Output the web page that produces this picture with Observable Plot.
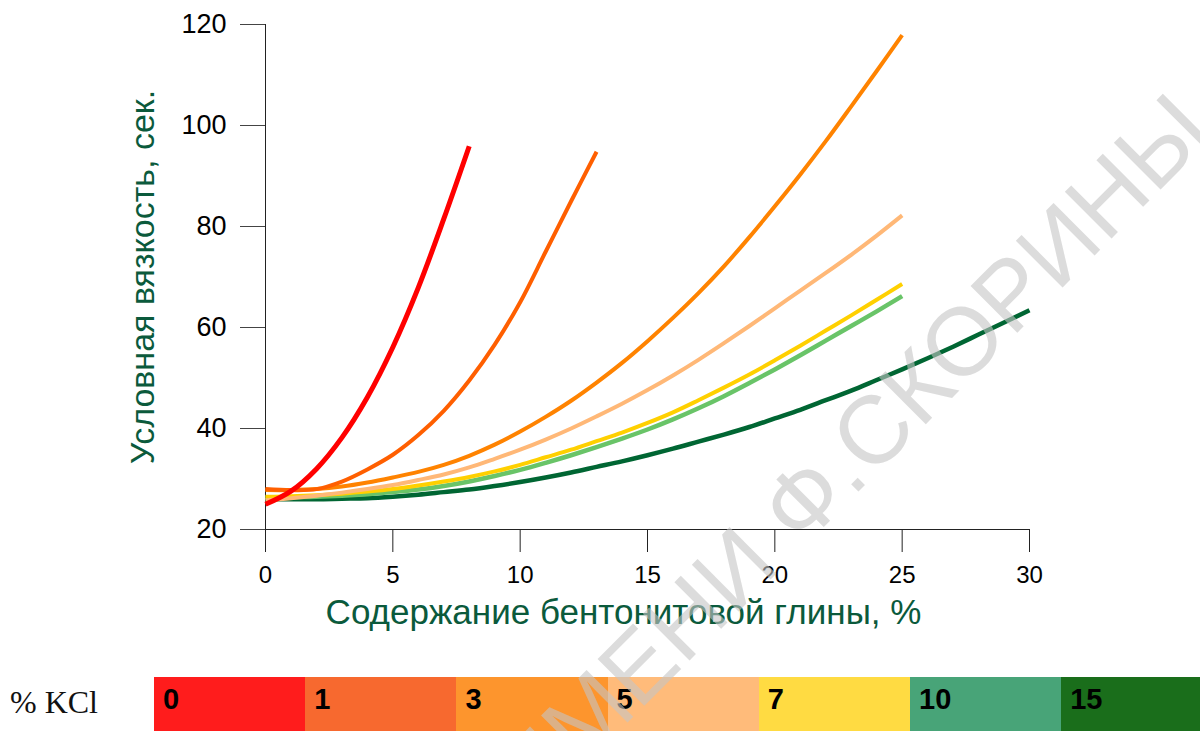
<!DOCTYPE html>
<html>
<head>
<meta charset="utf-8">
<script src="https://cdn.jsdelivr.net/npm/d3@7"></script>
<script src="https://cdn.jsdelivr.net/npm/@observablehq/plot@0.6"></script>
<style>
  html, body { margin: 0; padding: 0; background: #fff; }
  body { width: 1200px; height: 731px; position: relative; overflow: hidden; font-family: "Liberation Sans", Arial, sans-serif; }
  #chart { position: absolute; left: 0; top: 0; }
  #legend { position: absolute; left: 0; top: 677px; width: 1200px; height: 54px; }
  #legend .title { position: absolute; left: 10px; top: 0; height: 54px; line-height: 50px; font-family: "Liberation Serif", "Times New Roman", serif; font-size: 32px; color: #111; }
  #legend .box { position: absolute; top: 0; height: 54px; font-weight: bold; font-size: 29px; line-height: 44px; color: #000; box-sizing: border-box; padding-left: 9px; }
  #wm { position: absolute; left: 0; top: 0; pointer-events: none; }
</style>
</head>
<body>
<div id="chart"></div>
<div id="legend"></div>
<svg id="wm" width="1200" height="731"></svg>
<script>
// ---- data ----
const kclLevels = ["0", "1", "3", "5", "7", "10", "15"];
const clayPct = [0,1,2,3,4,5,6,7,8,9,10,11,12,13,14,15,16,17,18,19,20,21,22,23,24,25,26,27,28,29,30];
const visc0  = [25.0, 27.6, 32.0, 38.2, 46.2, 56.1, 67.9, 81.5, 95.9];
const visc1  = [28.0, 27.8, 28.0, 29.5, 31.9, 34.8, 38.7, 43.5, 49.5, 56.6, 65.0, 75.0, 85.0, 94.8];
const visc3  = [27.8, 27.8, 28.0, 28.5, 29.3, 30.3, 31.4, 32.8, 34.6, 36.8, 39.4, 42.3, 45.5, 49.1, 53.0, 57.3, 61.9, 66.8, 72.1, 77.9, 84.0, 90.3, 96.9, 103.8, 110.8, 117.9];
const visc5  = [25.8, 26.2, 26.7, 27.3, 28.0, 28.8, 29.8, 30.9, 32.3, 34.0, 35.8, 37.8, 40.0, 42.4, 44.9, 47.6, 50.5, 53.6, 56.9, 60.3, 63.8, 67.3, 70.8, 74.4, 78.2, 82.2];
const visc7  = [26.5, 26.6, 26.8, 27.1, 27.5, 28.0, 28.7, 29.5, 30.4, 31.5, 32.8, 34.3, 35.8, 37.5, 39.2, 41.1, 43.2, 45.6, 48.1, 50.7, 53.5, 56.4, 59.4, 62.4, 65.5, 68.6];
const visc10 = [26.3, 26.4, 26.5, 26.7, 27.0, 27.4, 27.9, 28.6, 29.5, 30.6, 31.8, 33.2, 34.7, 36.3, 38.0, 39.8, 41.8, 44.0, 46.4, 49.0, 51.7, 54.5, 57.4, 60.3, 63.2, 66.2];
const visc15 = [26.0, 26.0, 26.0, 26.1, 26.2, 26.5, 26.9, 27.4, 27.9, 28.6, 29.4, 30.3, 31.3, 32.4, 33.5, 34.7, 36.0, 37.4, 38.8, 40.3, 42.0, 43.7, 45.6, 47.5, 49.6, 51.7, 53.9, 56.2, 58.6, 61.0, 63.4];
const xTicks = [0, 5, 10, 15, 20, 25, 30];
const yTicks = [20, 40, 60, 80, 100, 120];
const xTitle = "Содержание бентонитовой глины, %";
const yTitle = "Условная вязкость, сек.";
const legendTitle = "% KCl";
const watermark = "ИМЕНИ Ф.СКОРИНЫ";

// ---- styles ----
const lineColors  = ["#ff0000", "#ff5f00", "#ff8300", "#ffb877", "#ffd000", "#69c468", "#006633"];
const lineWidths  = [5, 4, 4, 4, 4, 4.5, 4.5];
const boxColors   = ["#ff1c1c", "#f7692f", "#fd952d", "#ffbb7a", "#ffdb42", "#48a478", "#1a6e1b"];
const titleColor  = "#0b5a3c";

const viscSeries = [visc0, visc1, visc3, visc5, visc7, visc10, visc15];
const rowsFor = (i) => viscSeries[i].map((v, j) => ({kcl: kclLevels[i], clay: clayPct[j], visc: v}));

const lineMarks = [];
for (let i = kclLevels.length - 1; i >= 0; i--) {
  lineMarks.push(Plot.line(rowsFor(i), {
    x: "clay", y: "visc", stroke: lineColors[i], strokeWidth: lineWidths[i],
    curve: "catmull-rom", strokeLinecap: "butt"
  }));
}

const chart = Plot.plot({
  width: 1200,
  height: 660,
  marginLeft: 265,
  marginRight: 171,
  marginTop: 24,
  marginBottom: 131,
  style: {fontFamily: "'Liberation Sans', Arial, sans-serif", fontSize: "24px", color: "#000", background: "transparent", overflow: "visible"},
  x: {domain: [0, 30]},
  y: {domain: [20, 120]},
  marks: [
    Plot.axisY({ticks: yTicks, tickSize: 25, tickPadding: 14, fontSize: 27, label: null, stroke: "#444"}),
    Plot.axisX({ticks: xTicks, tickSize: 23, tickPadding: 13, fontSize: 24, label: null, stroke: "#222"}),
    Plot.ruleY([20], {stroke: "#222"}),
    Plot.ruleX([0], {y1: 20, y2: 120, stroke: "#222"}),
    ...lineMarks,
    Plot.text([xTitle], {frameAnchor: "bottom", textAnchor: "middle", dx: -24, dy: 94, fontSize: 35, fill: titleColor, text: d => d}),
    Plot.text([yTitle], {frameAnchor: "left", textAnchor: "middle", dx: -122, rotate: -90, fontSize: 34, fill: titleColor, text: d => d})
  ]
});
document.getElementById("chart").appendChild(chart);

// ---- legend ----
const legend = document.getElementById("legend");
const t = document.createElement("div");
t.className = "title";
t.textContent = legendTitle;
legend.appendChild(t);
const boxLeft = 154, boxW = 151.2;
kclLevels.forEach((k, i) => {
  const b = document.createElement("div");
  b.className = "box";
  b.style.left = (boxLeft + i * boxW) + "px";
  b.style.width = (i === kclLevels.length - 1 ? 1200 - (boxLeft + i * boxW) : boxW + 0.5) + "px";
  b.style.background = boxColors[i];
  b.textContent = k;
  legend.appendChild(b);
});

// ---- watermark ----
d3.select("#wm").append("text")
  .attr("transform", "translate(1215,135) rotate(-45)")
  .attr("text-anchor", "end")
  .attr("font-family", "'Liberation Sans', Arial, sans-serif")
  .attr("font-size", 96)
  .attr("fill", "#c4c4c4")
  .attr("fill-opacity", 0.6)
  .text(watermark);
</script>
</body>
</html>
